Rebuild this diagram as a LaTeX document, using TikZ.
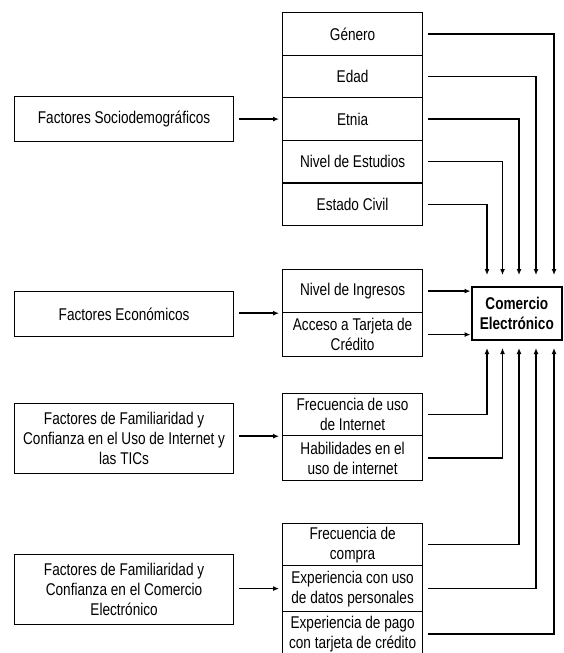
\documentclass[tikz,border=0pt]{standalone}
\usepackage{fontspec}
\setmainfont{Liberation Sans}[FakeStretch=0.8]
\usetikzlibrary{arrows.meta}
\newcommand{\fsz}{\fontsize{17}{20}\selectfont}
\begin{document}
\begin{tikzpicture}[x=1pt,y=-1pt,
  rbox/.style={draw, line width=1.2pt, minimum width=140pt, inner sep=0pt, align=center, anchor=north west, font=\fsz},
  lbox/.style={draw, line width=1.2pt, minimum width=219pt, inner sep=0pt, align=center, anchor=north west, font=\fsz},
  arr/.style={line width=1.5pt, -{Latex[length=6pt,width=5pt]}}]
\useasboundingbox (0,0) rectangle (563,653);
% right group 1
\node[rbox, minimum height=42.6pt] (g1) at (282,12) {Género};
\node[rbox, minimum height=42.6pt] (g2) at (282,54.6) {Edad};
\node[rbox, minimum height=42.6pt] (g3) at (282,97.2) {Etnia};
\node[rbox, minimum height=42.6pt] (g4) at (282,139.8) {Nivel de Estudios};
\node[rbox, minimum height=42.6pt] (g5) at (282,182.4) {Estado Civil};
% right group 2
\node[rbox, minimum height=43pt] (e1) at (282,269) {Nivel de Ingresos};
\node[rbox, minimum height=44pt] (e2) at (282,312) {Acceso a Tarjeta de\\Crédito};
% right group 3
\node[rbox, minimum height=42pt] (i1) at (282,393) {Frecuencia de uso\\de Internet};
\node[rbox, minimum height=45pt] (i2) at (282,435) {Habilidades en el\\uso de internet};
% right group 4
\node[rbox, minimum height=42pt] (c1) at (282,523) {Frecuencia de\\compra};
\node[rbox, minimum height=46pt] (c2) at (282,565) {Experiencia con uso\\de datos personales};
\node[rbox, minimum height=45pt] (c3) at (282,611) {Experiencia de pago\\con tarjeta de crédito};
% left boxes
\node[lbox, minimum height=45pt] (l1) at (14,96) {Factores Sociodemográficos};
\node[lbox, minimum height=45pt] (l2) at (14,291) {Factores Económicos};
\node[lbox, minimum height=70pt] (l3) at (14,403) {Factores de Familiaridad y\\Confianza en el Uso de Internet y\\las TICs};
\node[lbox, minimum height=70pt] (l4) at (14,554) {Factores de Familiaridad y\\Confianza en el Comercio\\Electrónico};
% comercio
\node[draw, line width=2.6pt, minimum width=90pt, minimum height=53pt, inner sep=0pt, align=center, anchor=north west, font=\fsz\bfseries] (ce) at (470.5,285.5) {Comercio\\Electrónico};
% coordinates for vertical arrows
\foreach \n/\x in {1/487,2/502.5,3/519,4/536,5/554}{
  \coordinate (t\n) at (\x,275);
  \coordinate (b\n) at (\x,348);
}
% left arrows
\draw[arr] ([xshift=5pt]l1.east |- g3.center) -- ([xshift=-3pt]g3.west);
\draw[arr] ([xshift=5pt]l2.east |- e1.south) -- ([xshift=-3pt]e1.south west);
\draw[arr] ([xshift=5pt]l3.east |- i1.south) -- ([xshift=-3pt]i1.south west);
\draw[arr] ([xshift=5pt]l4.east |- c2.center) -- ([xshift=-3pt]c2.west);
% top group to comercio
\draw[arr] ([xshift=5pt]g1.east) -| (t5);
\draw[arr] ([xshift=5pt]g2.east) -| (t4);
\draw[arr] ([xshift=5pt]g3.east) -| (t3);
\draw[arr] ([xshift=5pt]g4.east) -| (t2);
\draw[arr] ([xshift=5pt]g5.east) -| (t1);
% economic
\draw[arr] ([xshift=5pt]e1.east) -- (ce.west |- e1.east);
\draw[arr] ([xshift=5pt]e2.east) -- (ce.west |- e2.east);
% internet and commerce from below
\draw[arr] ([xshift=5pt]i1.east) -| (b1);
\draw[arr] ([xshift=5pt]i2.east) -| (b2);
\draw[arr] ([xshift=5pt]c1.east) -| (b3);
\draw[arr] ([xshift=5pt]c2.east) -| (b4);
\draw[arr] ([xshift=5pt]c3.east) -| (b5);
\end{tikzpicture}
\end{document}
